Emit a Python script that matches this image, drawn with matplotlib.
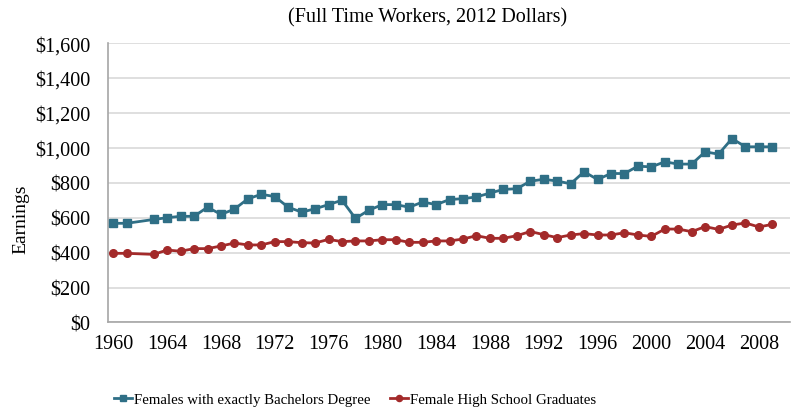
import matplotlib
matplotlib.use("Agg")
import matplotlib.pyplot as plt
from matplotlib.ticker import FuncFormatter

years = [1960, 1961] + list(range(1963, 2010))
bachelors = [568, 568, 590, 600, 608, 608, 660, 619, 649, 708, 734, 721, 660, 632,
             651, 675, 700, 596, 643, 675, 675, 660, 690, 675, 704, 709, 719, 741,
             762, 766, 809, 820, 810, 794, 863, 819, 853, 853, 895, 891, 920, 907,
             907, 977, 964, 1053, 1006, 1006, 1006]
high_school = [396, 396, 390, 415, 408, 423, 423, 438, 455, 444, 444, 463, 463, 457,
               455, 476, 463, 467, 467, 474, 474, 459, 459, 467, 467, 478, 497, 482,
               482, 497, 521, 503, 486, 501, 509, 501, 501, 514, 501, 493, 535, 535,
               520, 549, 533, 558, 570, 547, 562]
x_ticks = list(range(1960, 2009, 4))
y_ticks = list(range(0, 1601, 200))

plt.rcParams['font.family'] = ['Liberation Serif', 'DejaVu Serif']

fig = plt.figure(figsize=(7.97, 4.14), dpi=100)
ax = fig.add_axes([0.1355, 0.2186, 0.8555, 0.675])

ax.plot(years, bachelors, color='#2f6f86', lw=2, marker='s', ms=5.5,
        label='Females with exactly Bachelors Degree', zorder=3)
ax.plot(years, high_school, color='#a32a2a', lw=2, marker='o', ms=5.5,
        label='Female High School Graduates', zorder=3)

ax.set_xlim(1959.6, 2010.3)
ax.set_ylim(0, 1600)
ax.set_xticks(x_ticks)
ax.set_yticks(y_ticks)
ax.yaxis.set_major_formatter(FuncFormatter(lambda v, p: f"${v:,.0f}"))
ax.tick_params(axis='both', length=0, labelsize=14.5)
ax.tick_params(axis='y', pad=13)
ax.tick_params(axis='x', pad=8)
ax.grid(axis='y', color='#dcdcdc', lw=1.3)
ax.set_axisbelow(True)
for side in ['top', 'right']:
    ax.spines[side].set_visible(False)
for side in ['left', 'bottom']:
    ax.spines[side].set_color('#a6a6a6')
    ax.spines[side].set_linewidth(1.2)

ax.set_ylabel('Earnings', fontsize=14)
ax.yaxis.set_label_coords(-0.115, 0.374)
fig.text(0.536, 0.958, '(Full Time Workers, 2012 Dollars)', ha='center',
         va='center', fontsize=14.5)

fig.legend(loc='center', bbox_to_anchor=(0.4455, 0.033), ncol=2, frameon=False,
           fontsize=10.7, handlelength=1.2, handletextpad=0.15, columnspacing=1.3,
           markerscale=0.8)

fig.savefig('out.png', dpi=100)
